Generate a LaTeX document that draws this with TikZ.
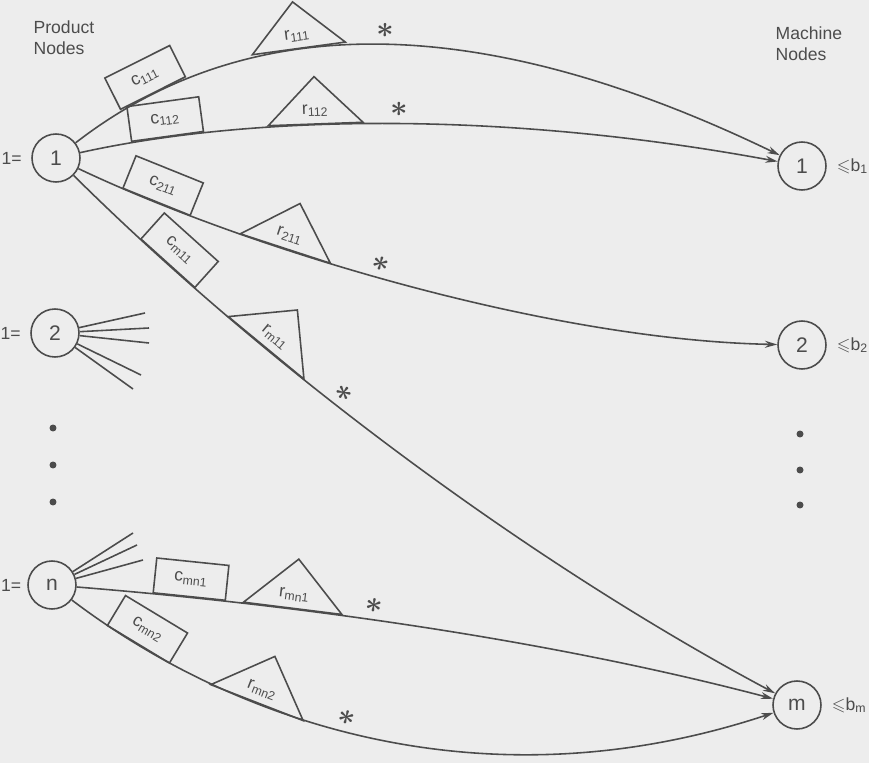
\documentclass[tikz,border=0pt]{standalone}
\usepackage{amssymb,bm}
\usepackage{fontspec}
\setmainfont{Liberation Sans}
\usetikzlibrary{arrows.meta,positioning,shapes.geometric}
\definecolor{ink}{gray}{0.3}
\definecolor{paper}{gray}{0.93}

\begin{document}
\begin{tikzpicture}[x=0.02cm, y=-0.02cm, >={Stealth[length=7pt,width=4pt]},
    line width=0.9pt, color=ink,
    pnode/.style={circle, draw, minimum size=0.96cm, inner sep=0pt, font=\large},
    cbox/.style={draw, minimum width=1.45cm, minimum height=0.7cm, inner sep=1pt,
                 sloped, anchor=south},
    rtri/.style={draw, isosceles triangle, isosceles triangle apex angle=90,
                 shape border rotate=90, inner sep=4.2pt, sloped, anchor=lower side},
    star/.style={sloped, above=0pt, font=\LARGE},
    dot/.style={circle, fill, inner sep=0pt, minimum size=0.14cm}]
  \fill[paper] (0,0) rectangle (869,763);
  \useasboundingbox (0,0) rectangle (869,763);

  % column headings
  \node[anchor=north west, align=left] (phead) at (27,14) {Product\\Nodes};
  \node[anchor=north west, align=left] (mhead) at (769,20) {Machine\\Nodes};

  % product nodes
  \node[pnode] (P1) at (56,158) {1};
  \node[pnode] (P2) at (55,333) {2};
  \node[pnode] (Pn) at (52,585) {n};
  \node[inner sep=0pt, left=5pt of P1] (e1) {1=};
  \node[inner sep=0pt, left=5pt of P2] (e2) {1=};
  \node[inner sep=0pt, left=3pt of Pn] (en) {1=};
  \node[dot] (ld1) at (53,428) {};
  \node[dot] (ld2) at (53,465) {};
  \node[dot] (ld3) at (53,502) {};

  % machine nodes
  \node[pnode] (M1) at (802,166) {1};
  \node[pnode] (M2) at (802,345) {2};
  \node[pnode] (Mm) at (797,705) {m};
  \node[right=2pt of M1] (b1) {$\leqslant$b\textsubscript{1}};
  \node[right=2pt of M2] (b2) {$\leqslant$b\textsubscript{2}};
  \node[right=2pt of Mm] (bm) {$\leqslant$b\textsubscript{m}};
  \node[dot] (rd1) at (800,434) {};
  \node[dot] (rd2) at (800,470) {};
  \node[dot] (rd3) at (800,505) {};

  % arcs product -> machine
  \draw[->] (P1) .. controls (260,0) and (500,20) .. (M1)
    node[cbox, pos=.135] (c111) {c\textsubscript{111}}
    node[rtri, pos=.365] (r111) {r\textsubscript{111}}
    node[star, pos=.49] (s111) {$\bm{\ast}$};
  \draw[->] (P1) .. controls (250,115) and (500,110) .. (M1)
    node[cbox, pos=.16] (c112) {c\textsubscript{112}}
    node[rtri, pos=.395] (r112) {r\textsubscript{112}}
    node[star, pos=.515] (s112) {$\bm{\ast}$};
  \draw[->] (P1) .. controls (250,250) and (550,340) .. (M2)
    node[cbox, pos=.138] (c211) {c\textsubscript{211}}
    node[rtri, pos=.333] (r211) {r\textsubscript{211}}
    node[star, pos=.46] (s211) {$\bm{\ast}$};
  \draw[->] (P1) .. controls (270,370) and (531,563) .. (Mm)
    node[cbox, pos=.152] (cm11) {c\textsubscript{m11}}
    node[rtri, pos=.3] (rm11) {r\textsubscript{m11}}
    node[star, pos=.4] (sm11) {$\bm{\ast}$};
  \draw[->] (Pn) .. controls (300,605) and (550,640) .. (Mm)
    node[cbox, pos=.165] (cmn1) {c\textsubscript{mn1}}
    node[rtri, pos=.313] (rmn1) {r\textsubscript{mn1}}
    node[star, pos=.425] (smn1) {$\bm{\ast}$};
  \draw[->] (Pn) .. controls (230,720) and (480,810) .. (Mm)
    node[cbox, pos=.13] (cmn2) {c\textsubscript{mn2}}
    node[rtri, pos=.33] (rmn2) {r\textsubscript{mn2}}
    node[star, pos=.46] (smn2) {$\bm{\ast}$};

  % loose ends of the other arcs
  \coordinate (f21) at (145,313);
  \coordinate (f22) at (149,328);
  \coordinate (f23) at (149,343);
  \coordinate (f24) at (141,375);
  \coordinate (f25) at (133,389);
  \coordinate (fn1) at (133,533);
  \coordinate (fn2) at (137,545);
  \coordinate (fn3) at (143,560);
  \foreach \i in {1,...,5} \draw (P2) -- (f2\i);
  \foreach \i in {1,2,3} \draw (Pn) -- (fn\i);
\end{tikzpicture}
\end{document}
